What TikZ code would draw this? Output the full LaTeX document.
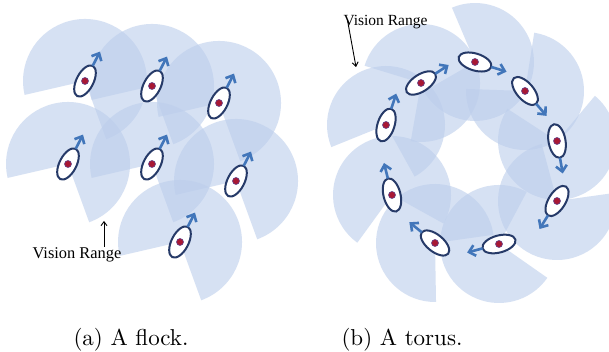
\documentclass[tikz,border=0pt]{standalone}
\usepackage{fontspec}
\newfontfamily\timesfont{Liberation Serif}
\usetikzlibrary{arrows.meta,shapes.geometric}
\definecolor{vis}{RGB}{188,206,236}
\definecolor{agentline}{RGB}{38,58,104}
\definecolor{headblue}{RGB}{66,118,186}
\definecolor{dotred}{RGB}{168,24,52}
\definecolor{dotring}{RGB}{100,70,140}
\tikzset{
  visfill/.style={fill=vis, fill opacity=0.6},
  agentbody/.style={ellipse, draw=agentline, line width=2pt, fill=white, minimum width=34pt, minimum height=17pt, inner sep=0pt, outer sep=0pt},
  headingarrow/.style={draw=headblue, line width=2.6pt, -{Straight Barb[length=6pt,width=11pt]}},
  reddot/.style={circle, fill=dotred, draw=dotring, line width=0.6pt, minimum size=7pt, inner sep=0pt},
  labeltext/.style={font=\timesfont\fontsize{16.4}{18}\selectfont, inner sep=0pt, anchor=base},
  labelarrow/.style={draw=black, line width=0.9pt, -{Straight Barb[length=4pt,width=6pt]}},
  captiontext/.style={font=\fontsize{10}{12}\selectfont, scale=2.3, anchor=base, inner sep=0pt},
}
\newcommand\visfan[4]{\fill[visfill] (#1,#2) -- ++({#3-133}:#4pt) arc[start angle={#3-133}, end angle={#3+130}, radius=#4pt] -- cycle;}
\newcommand\boid[4]{%
  \node[agentbody, rotate=#4] (#1) at (#2,#3) {};
  \draw[headingarrow] (#1.east) -- ([shift={(#4:16pt)}]#1.east);
  \node[reddot] (#1dot) at (#1.center) {};
}
\begin{document}
\begin{tikzpicture}[x=1pt,y=1pt]
\fill[white] (0,0) rectangle (609,352);
\useasboundingbox (0,0) rectangle (609,352);
% ---- left panel: flock ----
\visfan{85}{271}{63}{62}
\visfan{152}{266}{63}{62}
\visfan{219}{249}{63}{62}
\visfan{68}{188}{63}{62}
\visfan{152}{188}{63}{62}
\visfan{236}{171}{63}{62}
\visfan{180}{110}{63}{62}
% ---- right panel: torus ----
\visfan{475}{290}{-17}{59}
\visfan{525}{261}{-49}{59}
\visfan{557}{211}{-80}{59}
\visfan{557}{151}{-122}{59}
\visfan{499}{108}{195}{59}
\visfan{435}{109}{141}{59}
\visfan{392}{157}{104}{59}
\visfan{386}{227}{72}{59}
\visfan{421}{269}{33}{59}
% agents
\boid{fa}{85}{271}{63}
\boid{fb}{152}{266}{63}
\boid{fc}{219}{249}{63}
\boid{fd}{68}{188}{63}
\boid{fe}{152}{188}{63}
\boid{ff}{236}{171}{63}
\boid{fg}{180}{110}{63}
\boid{ta}{475}{290}{-17}
\boid{tb}{525}{261}{-49}
\boid{tc}{557}{211}{-80}
\boid{td}{557}{151}{-122}
\boid{te}{499}{108}{195}
\boid{tf}{435}{109}{141}
\boid{tg}{392}{157}{104}
\boid{th}{386}{227}{72}
\boid{ti}{421}{269}{33}
% labels
\node[labeltext] (vr1) at (77,93) {Vision Range};
\coordinate (vr1tip) at (104,131);
\draw[labelarrow] ([xshift=27pt,yshift=1pt]vr1.north) -- (vr1tip);
\node[labeltext, font=\timesfont\fontsize{15.5}{17}\selectfont] (vr2) at (385.5,326) {Vision Range};
\coordinate (vr2tip) at (356,285);
\draw[labelarrow] ([xshift=4pt,yshift=-4pt]vr2.north west) -- (vr2tip);
% captions
\node[captiontext] (capa) at (131,6) {(a)\ A flock.};
\node[captiontext] (capb) at (402,6) {(b)\ A torus.};
\end{tikzpicture}
\end{document}
